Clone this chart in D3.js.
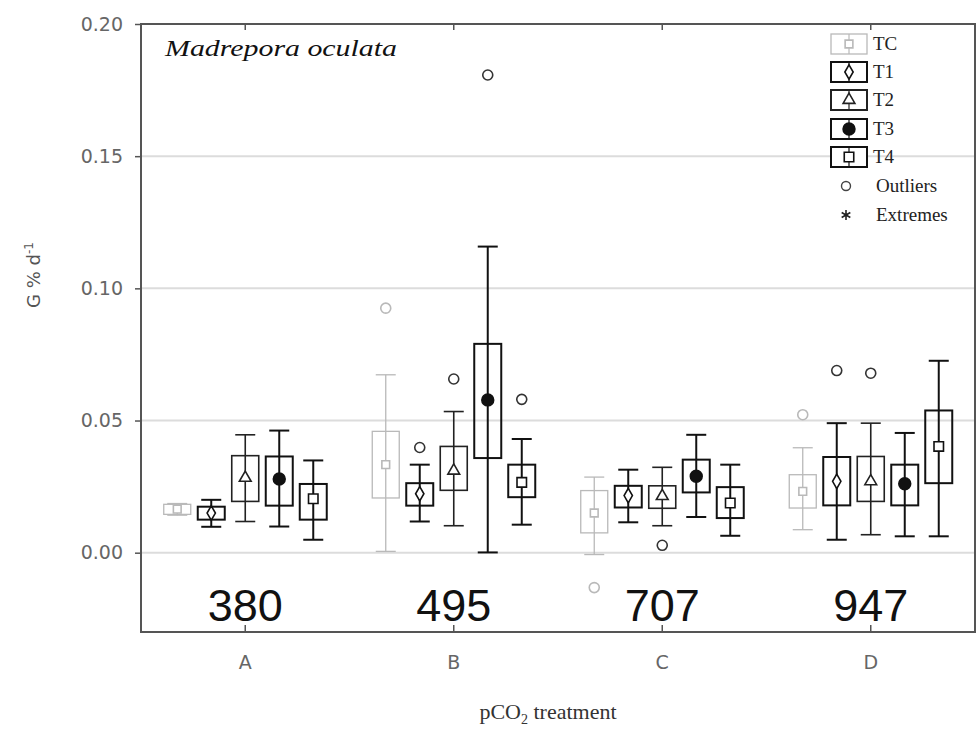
<!DOCTYPE html>
<html>
<head>
<meta charset="utf-8">
<script src="https://cdn.jsdelivr.net/npm/d3@7"></script>
<style>
  body { margin: 0; background: #fff; }
  svg { display: block; }
</style>
</head>
<body>
<svg id="chart" width="978" height="731"></svg>
<script>
// Growth rate of Madrepora oculata per pCO2 treatment (box = 25–75 %, whiskers = non-outlier range)
const categories = ["A", "B", "C", "D"];
const pco2Levels = ["380", "495", "707", "947"];
const treatments = ["TC", "T1", "T2", "T3", "T4"];

// rows follow treatments, columns follow categories
const whiskerLow = [
  [0.0142, 0.0005, -0.0007, 0.0087],
  [0.0098, 0.0118, 0.0115, 0.0049],
  [0.0118, 0.0102, 0.0102, 0.0068],
  [0.0099, 0.0001, 0.0135, 0.0062],
  [0.0049, 0.0106, 0.0064, 0.0062]
];
const quartile1 = [
  [0.0145, 0.0207, 0.0075, 0.0169],
  [0.0125, 0.0178, 0.0171, 0.0179],
  [0.0194, 0.0236, 0.0168, 0.0194],
  [0.0178, 0.0358, 0.0228, 0.0179],
  [0.0125, 0.0210, 0.0131, 0.0263]
];
const medians = [
  [0.0165, 0.0333, 0.0150, 0.0232],
  [0.0150, 0.0223, 0.0216, 0.0270],
  [0.0283, 0.0310, 0.0214, 0.0270],
  [0.0279, 0.0578, 0.0289, 0.0261],
  [0.0204, 0.0266, 0.0188, 0.0402]
];
const quartile3 = [
  [0.0183, 0.0459, 0.0235, 0.0295],
  [0.0174, 0.0263, 0.0253, 0.0362],
  [0.0367, 0.0402, 0.0253, 0.0364],
  [0.0364, 0.0790, 0.0352, 0.0333],
  [0.0260, 0.0333, 0.0248, 0.0538]
];
const whiskerHigh = [
  [0.0186, 0.0673, 0.0286, 0.0397],
  [0.0200, 0.0333, 0.0314, 0.0490],
  [0.0446, 0.0534, 0.0323, 0.0490],
  [0.0462, 0.1158, 0.0446, 0.0453],
  [0.0349, 0.0430, 0.0333, 0.0726]
];
const outlierTreatment = ["TC", "T1", "T2", "T3", "T4", "TC", "T2", "TC", "T1", "T2"];
const outlierCategory  = ["B", "B", "B", "B", "B", "C", "C", "D", "D", "D"];
const outlierValue     = [0.0925, 0.0398, 0.0657, 0.1807, 0.058, -0.0132, 0.0028, 0.0522, 0.0689, 0.0679];

const yTicks = [0, 0.05, 0.10, 0.15, 0.20];
const gridValues = [0, 0.05, 0.10, 0.15];
const legendLabels = ["TC", "T1", "T2", "T3", "T4", "Outliers", "Extremes"];

const svg = d3.select("#chart");
const frame = { left: 141, right: 975, top: 24, bottom: 632 };

const x = d3.scaleBand().domain(categories).range([frame.left, frame.right]);
const inner = d3.scaleBand().domain(treatments).range([-85, 85]);
const y = d3.scaleLinear().domain([-0.03, 0.20]).range([frame.bottom, frame.top]);

const color = d3.scaleOrdinal().domain(treatments).range(["#b9b9b9", "#111", "#222", "#111", "#111"]);
const strokeW = d3.scaleOrdinal().domain(treatments).range([1.3, 2, 1.6, 2, 2]);
const symbolType = d3.scaleOrdinal().domain(treatments)
  .range([d3.symbolSquare, d3.symbolDiamond, d3.symbolTriangle, d3.symbolCircle, d3.symbolSquare]);
const symbolSize = d3.scaleOrdinal().domain(treatments).range([60, 60, 60, 110, 90]);
const symbolFill = d3.scaleOrdinal().domain(treatments).range(["#fff", "#fff", "#fff", "#111", "#fff"]);

const cx = (t, c) => x(c) + x.bandwidth() / 2 + inner(t) + inner.bandwidth() / 2;
const boxW = 27, capW = 20;

// horizontal grid lines
svg.append("g").selectAll("line").data(gridValues).join("line")
  .attr("x1", frame.left).attr("x2", frame.right)
  .attr("y1", d => y(d)).attr("y2", d => y(d))
  .attr("stroke", "#dcdcdc").attr("stroke-width", 2);

// box plots
const boxes = [];
treatments.forEach((t, i) => categories.forEach((c, j) => boxes.push({
  t, c, lo: whiskerLow[i][j], q1: quartile1[i][j], med: medians[i][j], q3: quartile3[i][j], hi: whiskerHigh[i][j]
})));

const gBox = svg.append("g").selectAll("g").data(boxes).join("g")
  .attr("transform", d => `translate(${cx(d.t, d.c)},0)`)
  .attr("stroke", d => color(d.t))
  .attr("stroke-width", d => strokeW(d.t))
  .attr("fill", "none");

gBox.append("line").attr("x1", 0).attr("x2", 0)
  .attr("y1", d => y(d.hi)).attr("y2", d => y(d.lo));
gBox.append("line").attr("x1", -capW / 2).attr("x2", capW / 2)
  .attr("y1", d => y(d.hi)).attr("y2", d => y(d.hi));
gBox.append("line").attr("x1", -capW / 2).attr("x2", capW / 2)
  .attr("y1", d => y(d.lo)).attr("y2", d => y(d.lo));
gBox.append("rect").attr("x", -boxW / 2).attr("width", boxW)
  .attr("y", d => y(d.q3)).attr("height", d => y(d.q1) - y(d.q3))
  .attr("fill", "#fff").attr("fill-opacity", 0);
gBox.append("path")
  .attr("d", d => d3.symbol(symbolType(d.t), symbolSize(d.t))())
  .attr("transform", d => `translate(0,${y(d.med)})`)
  .attr("fill", d => symbolFill(d.t))
  .attr("stroke-width", 1.6);

// outliers
svg.append("g").selectAll("circle").data(outlierValue.map((v, k) => ({ v, t: outlierTreatment[k], c: outlierCategory[k] })))
  .join("circle")
  .attr("cx", d => cx(d.t, d.c)).attr("cy", d => y(d.v)).attr("r", 5)
  .attr("fill", "#fff").attr("stroke", d => d.t === "TC" ? "#b9b9b9" : "#333").attr("stroke-width", 1.6);

// frame
svg.append("rect")
  .attr("x", frame.left).attr("y", frame.top)
  .attr("width", frame.right - frame.left).attr("height", frame.bottom - frame.top)
  .attr("fill", "none").attr("stroke", "#555").attr("stroke-width", 2);

// y axis
const yAxis = svg.append("g").attr("transform", `translate(${frame.left},0)`)
  .call(d3.axisLeft(y).tickValues(yTicks).tickFormat(d3.format(".2f")).tickSize(6).tickPadding(12));
yAxis.select(".domain").remove();
yAxis.selectAll("line").attr("stroke", "#555").attr("stroke-width", 1.5);
yAxis.selectAll("text").attr("font-family", "DejaVu Sans").attr("font-size", 19).attr("fill", "#666");

// x axis (ticks pointing inward), plus inner ticks on the top edge
const xAxis = svg.append("g").attr("transform", `translate(0,${frame.bottom})`)
  .call(d3.axisBottom(x).tickSize(-7).tickPadding(24));
xAxis.select(".domain").remove();
xAxis.selectAll("line").attr("stroke", "#555").attr("stroke-width", 1.5);
xAxis.selectAll("text").attr("font-family", "DejaVu Sans").attr("font-size", 19).attr("fill", "#666");

const xTop = svg.append("g").attr("transform", `translate(0,${frame.top})`)
  .call(d3.axisTop(x).tickSize(-6).tickFormat(""));
xTop.select(".domain").remove();
xTop.selectAll("line").attr("stroke", "#555").attr("stroke-width", 1.5);

// pCO2 values inside the plot
svg.append("g").selectAll("text").data(categories).join("text")
  .attr("x", c => x(c) + x.bandwidth() / 2).attr("y", 621)
  .attr("text-anchor", "middle")
  .attr("font-family", "Liberation Sans, Arial, sans-serif").attr("font-size", 45).attr("fill", "#111")
  .text((c, i) => pco2Levels[i]);

// species title
svg.append("text").attr("x", 165).attr("y", 56)
  .attr("font-family", "Liberation Serif, serif").attr("font-style", "italic").attr("font-size", 24)
  .attr("textLength", 232).attr("lengthAdjust", "spacingAndGlyphs").attr("fill", "#111")
  .text("Madrepora oculata");

// axis titles
svg.append("text")
  .attr("transform", "translate(40,275) rotate(-90)")
  .attr("text-anchor", "middle")
  .attr("font-family", "DejaVu Sans").attr("font-size", 18).attr("fill", "#555")
  .html('G % d<tspan dy="-7" font-size="12">-1</tspan>');

svg.append("text")
  .attr("x", 548).attr("y", 719).attr("text-anchor", "middle")
  .attr("font-family", "Liberation Serif, serif").attr("font-size", 22).attr("fill", "#333")
  .html('pCO<tspan dy="5" font-size="14">2</tspan><tspan dy="-5"> treatment</tspan>');

// legend
const legendY = [44, 72, 100, 129, 157, 186, 215];
const lg = svg.append("g");
treatments.forEach((t, i) => {
  const g = lg.append("g").attr("transform", `translate(849,${legendY[i]})`)
    .attr("stroke", color(t)).attr("stroke-width", t === "TC" ? 1.3 : 2).attr("fill", "none");
  g.append("rect").attr("x", -18).attr("y", -10).attr("width", 36).attr("height", 20).attr("fill", "#fff");
  g.append("line").attr("x1", 0).attr("x2", 0).attr("y1", -10).attr("y2", 10).attr("stroke-width", 1.2);
  g.append("path").attr("d", d3.symbol(symbolType(t), symbolSize(t))())
    .attr("fill", symbolFill(t)).attr("stroke-width", 1.6);
});
lg.append("circle").attr("cx", 846).attr("cy", legendY[5]).attr("r", 4.5)
  .attr("fill", "#fff").attr("stroke", "#444").attr("stroke-width", 1.4);
lg.append("path").attr("d", d3.symbol(d3.symbolAsterisk, 70)())
  .attr("transform", `translate(846,${legendY[6]})`).attr("stroke", "#222").attr("stroke-width", 1.6).attr("fill", "none");
lg.selectAll("text.lab").data(legendLabels).join("text").attr("class", "lab")
  .attr("x", (d, i) => i < 5 ? 873 : 876).attr("y", (d, i) => legendY[i] + 6)
  .attr("font-family", "Liberation Serif, serif").attr("font-size", 19).attr("fill", "#222")
  .text(d => d);
</script>
</body>
</html>
